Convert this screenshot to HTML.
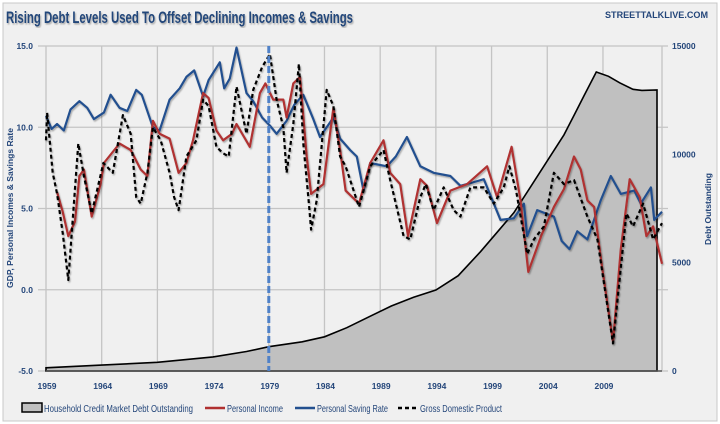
<!DOCTYPE html>
<html><head><meta charset="utf-8">
<style>
body{margin:0;background:#fff;width:720px;height:424px;overflow:hidden;font-family:"Liberation Sans",sans-serif;}
svg{display:block}
</style></head>
<body>
<svg id="chart" width="720" height="424" viewBox="0 0 720 424" xmlns="http://www.w3.org/2000/svg">
<defs>
<filter id="sh" x="-5%" y="-5%" width="110%" height="110%"><feDropShadow dx="1" dy="1.5" stdDeviation="0.8" flood-color="#000" flood-opacity="0.3"/></filter>
</defs>
<rect x="3" y="3" width="714" height="418" fill="#f0f0f0" stroke="#c8c8c8"/>
<text x="6" y="23" font-size="17" font-weight="bold" fill="#24467a" textLength="347" lengthAdjust="spacingAndGlyphs" filter="url(#sh)">Rising Debt Levels Used To Offset Declining Incomes &amp; Savings</text>
<text x="708" y="18" font-size="9" font-weight="bold" fill="#24467a" text-anchor="end" textLength="103" lengthAdjust="spacingAndGlyphs">STREETTALKLIVE.COM</text>
<g id="grid"></g>
<g id="area"></g>
<g id="lines"></g>
<g id="axes"></g>
<text transform="translate(13,208) rotate(-90)" font-size="8" font-weight="bold" fill="#24467a" text-anchor="middle" textLength="160" lengthAdjust="spacingAndGlyphs">GDP, Personal Incomes  &amp; Savings  Rate</text>
<text transform="translate(711,209) rotate(-90)" font-size="8" font-weight="bold" fill="#24467a" text-anchor="middle" textLength="72" lengthAdjust="spacingAndGlyphs">Debt Outstanding</text>
<g font-size="10" fill="#24467a">
<rect x="22" y="403" width="20" height="9" fill="#c0c0c0" stroke="#000" stroke-width="1.5"/>
<text x="44" y="412" textLength="149" lengthAdjust="spacingAndGlyphs">Household Credit Market Debt Outstanding</text>
<line x1="205" y1="408" x2="225" y2="408" stroke="#b03030" stroke-width="2.5"/>
<text x="227" y="412" textLength="56" lengthAdjust="spacingAndGlyphs">Personal Income</text>
<line x1="295" y1="408" x2="315" y2="408" stroke="#23508f" stroke-width="2.5"/>
<text x="317" y="412" textLength="71" lengthAdjust="spacingAndGlyphs">Personal Saving Rate</text>
<line x1="398" y1="408" x2="418" y2="408" stroke="#000" stroke-width="2.5" stroke-dasharray="4,3"/>
<text x="420" y="412" textLength="82" lengthAdjust="spacingAndGlyphs">Gross Domestic Product</text>
</g>
</svg>
<script>
const tickYears=[1959,1964,1969,1974,1979,1984,1989,1994,1999,2004,2009];
const leftTicks=[-5,0,5,10,15];
const leftTickLabels=["-5.0","0.0","5.0","10.0","15.0"];
const rightTicks=[0,5000,10000,15000];
const debtYears=[1959,1964,1969,1974,1977,1979,1982,1984,1986,1988,1990,1992,1994,1996,1998,1999.5,2001,2002.5,2004,2005.5,2006.5,2007.3,2008.4,2009.5,2010.5,2011.7,2012.5,2013.85];
const debtValues=[150,270,400,650,900,1120,1350,1580,2000,2500,3000,3400,3740,4400,5500,6400,7300,8500,9700,10900,11900,12700,13800,13600,13300,13000,12950,12970];
const savYears=[1959,1959.5,1960,1960.6,1961.2,1962,1962.7,1963.3,1964.2,1964.8,1965.6,1966.3,1967.1,1967.6,1968.6,1969.2,1970.1,1971,1971.6,1972.3,1973.1,1973.6,1974.6,1975,1975.5,1976.1,1977,1977.6,1978.4,1979.1,1979.7,1980.6,1981.3,1982.1,1983,1983.6,1984.8,1985.4,1986.3,1986.9,1987.5,1988.1,1989.6,1990.4,1991.4,1992.6,1993.8,1995.3,1996.2,1997.3,1998.3,1999.8,2001,2001.9,2002.2,2003.1,2004.6,2005.3,2006,2006.7,2007.6,2008.8,2009.7,2010.6,2011.8,2012.4,2013.3,2013.6,2014.3];
const savValues=[10.7,9.9,10.2,9.8,11.1,11.6,11.2,10.5,10.9,12.0,11.2,11.0,12.3,12.0,10.0,9.8,11.7,12.4,13.1,13.5,11.9,12.9,14.0,12.4,13.0,14.9,12.1,11.6,10.6,10.1,9.6,10.4,11.4,12.0,10.5,9.4,10.6,9.3,8.6,8.2,6.1,7.8,7.6,8.2,9.4,7.6,7.2,7.0,6.4,6.6,6.8,4.3,4.4,5.3,3.3,4.9,4.5,3.0,2.5,3.6,3.1,5.5,7.0,5.9,6.1,5.3,6.3,4.3,4.8];
const incYears=[1960,1960.5,1961,1961.6,1962,1962.4,1963.1,1963.9,1964.2,1965.6,1966.6,1967.5,1968.1,1968.6,1969.2,1970.1,1970.9,1971.6,1972.2,1973.1,1973.6,1974.3,1974.9,1975.7,1976.1,1977.3,1978.2,1978.7,1979.4,1980.3,1980.6,1981.2,1981.8,1982.4,1982.8,1983.9,1984.8,1985.4,1985.9,1987.1,1988.1,1989.3,1989.9,1990.8,1991.5,1992.6,1993.2,1994.1,1995.3,1996.8,1998.6,1999.5,2000.8,2001.6,2002.3,2003.5,2004.6,2005.5,2006.4,2007,2007.6,2008.2,2008.9,2009.9,2010.6,2011.4,2012.3,2012.9,2013.5,2014.3];
const incValues=[6.0,4.8,3.3,4.2,7.0,7.4,4.5,6.5,7.8,9.0,8.6,7.4,7.0,10.4,9.6,9.3,7.2,7.8,9.2,12.1,11.8,9.8,9.2,9.6,10.2,8.8,12.1,12.7,11.7,11.7,10.6,12.7,13.1,8.2,5.9,6.5,11.2,8.6,6.1,5.3,7.8,9.2,7.2,6.5,3.3,6.8,6.4,4.1,6.1,6.5,7.6,5.7,8.8,5.5,1.1,3.4,5.1,6.2,8.2,7.4,5.5,5.1,1.5,-3.2,2.5,6.8,5.7,3.3,3.9,1.6];
const gdpYears=[1959,1959.1,1959.6,1960,1960.5,1961,1961.9,1962.4,1963.1,1964.15,1965,1965.9,1966.6,1967.1,1967.5,1968.1,1968.6,1969.3,1970.1,1970.5,1970.9,1971.6,1972.5,1973.1,1973.6,1974.3,1974.9,1975.4,1976.1,1977,1977.6,1978.4,1979.1,1979.7,1980.3,1980.6,1981.2,1981.7,1982.1,1982.6,1982.8,1983.3,1984.2,1984.8,1985.4,1985.9,1987.1,1988.1,1989.3,1989.9,1991.1,1991.7,1992.6,1993.1,1993.8,1994.7,1995.6,1996.2,1997.1,1998.3,1999.2,2000.1,2000.6,2001.2,2002.2,2002.8,2003.7,2004.6,2005.5,2006.4,2007.6,2008.5,2009.9,2011.1,2011.7,2012.6,2013.5,2014.3];
const gdpValues=[9.2,10.9,7.2,5.9,3.5,0.6,9.0,7.0,4.7,7.8,7.2,10.75,9.6,5.7,5.3,7.2,10.0,9.2,7.2,5.7,4.9,8.2,9.2,11.7,11.3,8.8,8.4,8.2,12.5,9.6,12.3,13.7,14.5,11.7,10.0,7.2,10.2,13.9,9.0,5.3,3.7,5.5,12.3,11.3,8.2,7.6,5.1,7.6,8.6,6.75,3.3,3.1,5.7,6.5,4.9,6.3,4.9,4.5,6.3,6.3,5.3,6.3,7.6,6.1,2.2,3.1,3.9,7.2,6.5,6.75,4.5,3.1,-3.3,4.7,3.9,5.3,3.1,4.1];

const NS="http://www.w3.org/2000/svg";
const L=46,R=662,T=46,B=371,Y0=1959,Y1=2014.3;
const xS=y=>L+(y-Y0)*(R-L)/(Y1-Y0);
const yL=v=>B-(v+5)*(B-T)/20;
const yR=v=>B-v*(B-T)/15000;
function mk(tag,attrs,parent,txt){const e=document.createElementNS(NS,tag);for(const k in attrs)e.setAttribute(k,attrs[k]);if(txt!==undefined)e.textContent=txt;parent.appendChild(e);return e;}
const grid=document.getElementById('grid'),area=document.getElementById('area'),lines=document.getElementById('lines'),axes=document.getElementById('axes');
mk('rect',{x:L,y:T,width:R-L,height:B-T,fill:'#f0f0f0'},grid);
tickYears.forEach(y=>{
  const g=mk('line',{x1:xS(y),y1:T,x2:xS(y),y2:B,stroke:'#c4c4c4','stroke-width':1.3},grid);
  
  
  const t=mk('text',{x:xS(y)+1,y:389,'font-size':8.5,'font-weight':'bold',fill:'#24467a','text-anchor':'middle'},axes,String(y));
  
  
});
mk('line',{x1:R,y1:T,x2:R,y2:B,stroke:'#c4c4c4','stroke-width':1.3},grid);
leftTicks.forEach((v,i)=>{
  const g=mk('line',{x1:L-8,y1:yL(v),x2:R+6,y2:yL(v),stroke:'#c4c4c4','stroke-width':1.3},grid);
  
  
  const t=mk('text',{x:33,y:yL(v)+3,'font-size':8.5,'font-weight':'bold',fill:'#24467a','text-anchor':'end'},axes,leftTickLabels[i]);
  
  
});
rightTicks.forEach(v=>{
  const t=mk('text',{x:672,y:yR(v)+3,'font-size':8.5,'font-weight':'bold',fill:'#24467a'},axes,String(v));
  
  
});
let d='M'+xS(debtYears[0])+','+B;
debtYears.forEach((y,i)=>{d+=' L'+xS(y).toFixed(1)+','+yR(debtValues[i]).toFixed(1);});
d+=' L'+xS(debtYears[debtYears.length-1]).toFixed(1)+','+B+' Z';
const ar=mk('path',{d:d,fill:'#c0c0c0',stroke:'#000','stroke-width':1.6},area);


mk('line',{x1:L,y1:B,x2:R,y2:B,stroke:'#555','stroke-width':1.5},area);
function series(xs,vs,color,dash,name){
  const p=xs.map((y,i)=>(i?'L':'M')+xS(y).toFixed(1)+','+yL(vs[i]).toFixed(1)).join(' ');
  const a={d:p,fill:'none',stroke:color,'stroke-width':2.2,'stroke-linejoin':'round',filter:'url(#sh)'};
  if(dash)a['stroke-dasharray']=dash;
  const e=mk('path',a,lines);
  
  
}
series(savYears,savValues,'#23508f',null,'saving-rate-line');
series(incYears,incValues,'#b03030',null,'personal-income-line');
series(gdpYears,gdpValues,'#000',"4,3",'gdp-line');
const mark=mk('line',{x1:xS(1979),y1:T,x2:xS(1979),y2:B,stroke:'#4f81c8','stroke-width':3,'stroke-dasharray':'7,3'},lines);


</script>
</body></html>
